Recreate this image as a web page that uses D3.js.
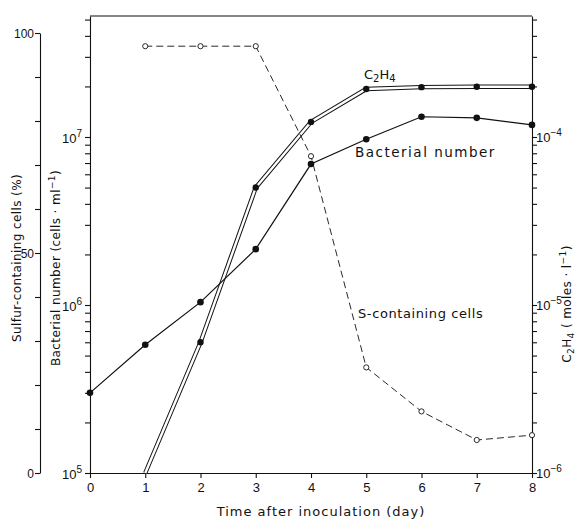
<!DOCTYPE html>
<html>
<head>
<meta charset="utf-8">
<script src="https://cdn.jsdelivr.net/npm/d3@7"></script>
<style>
  body { margin: 0; background: #fff; }
  svg { font-family: "DejaVu Sans", sans-serif; }
  .axis path, .axis line { stroke: #111; stroke-width: 1.1; }
</style>
</head>
<body>
<script>
// sampling days
const days = [0, 1, 2, 3, 4, 5, 6, 7, 8];
// bacterial number (cells per ml)
const bacteria = [3.0e5, 5.8e5, 1.04e6, 2.15e6, 6.9e6, 9.7e6, 1.32e7, 1.3e7, 1.18e7];
// ethylene (moles per l), measured from day 1
const ethDays = [1, 2, 3, 4, 5, 6, 7, 8];
const ethylene = [1e-6, 6.0e-6, 5.0e-5, 1.23e-4, 1.93e-4, 1.98e-4, 1.99e-4, 1.99e-4];
// sulfur-containing cells (%), measured from day 1
const sulfDays = [1, 2, 3, 4, 5, 6, 7, 8];
const sulfur = [97, 97, 97, 72, 24, 14, 7.5, 8.6];
// tick values
const xTicks = [0, 1, 2, 3, 4, 5, 6, 7, 8];
const sulfTicks = [0, 10, 20, 30, 40, 50, 60, 70, 80, 90, 100];
const sulfLabels = [0, 50, 100];

const width = 578, height = 519;
const svg = d3.select("body").append("svg")
    .attr("width", width)
    .attr("height", height);

// scales
const bottom = 473, decade = 168;
const x = d3.scaleLinear().domain([0, 8]).range([90, 532]);
const yTop = bottom - decade * Math.log10(525);
const yB = d3.scaleLog().domain([1e5, 5.25e7]).range([bottom, yTop]);
const yC = d3.scaleLog().domain([1e-6, 5.25e-4]).range([bottom, yTop]);
const yS = d3.scaleLinear().domain([0, 100]).range([bottom, 33]);

const isPow = d => Math.abs(Math.log10(d) - Math.round(Math.log10(d))) < 1e-6;

// puts "10^n" labels next to the log ticks
const powLabel = function(g, anchor, dx, dy){
    g.selectAll(".tick").filter(d => isPow(d))
     .append("text")
       .attr("x", dx)
       .attr("y", dy)
       .attr("fill", "#111")
       .attr("text-anchor", anchor)
       .style("font-size", "13px")
       .each(function(d){
           var t = d3.select(this);
           t.append("tspan").text("10");
           t.append("tspan")
            .attr("dy", -6)
            .style("font-size", "10px")
            .text(String(Math.round(Math.log10(d))).replace("-", "\u2212"));
       });
};

// x axis
svg.append("g")
   .attr("class", "axis")
   .attr("transform", "translate(0," + bottom + ")")
   .call(d3.axisBottom(x).tickValues(xTicks).tickSize(5).tickSizeOuter(0).tickFormat(""))
   .call(g => g.selectAll(".tick").append("text")
        .attr("y", 19)
        .attr("fill", "#111")
        .attr("text-anchor", "middle")
        .style("font-size", "13px")
        .text(d => d));

// top frame line
svg.append("line")
   .attr("x1", x(0)).attr("x2", x(8))
   .attr("y1", yTop).attr("y2", yTop)
   .attr("stroke", "#111").attr("stroke-width", 1.1);

// bacterial number axis
svg.append("g")
   .attr("class", "axis")
   .attr("transform", "translate(" + x(0) + ",0)")
   .call(d3.axisLeft(yB).tickValues(yB.ticks()).tickSize(5).tickSizeOuter(0).tickFormat(""))
   .call(g => powLabel(g, "end", -8, 5));

// ethylene axis
svg.append("g")
   .attr("class", "axis")
   .attr("transform", "translate(" + x(8) + ",0)")
   .call(d3.axisRight(yC).tickValues(yC.ticks()).tickSize(5).tickSizeOuter(0).tickFormat(""))
   .call(g => powLabel(g, "start", 4, 4));

// sulfur axis
svg.append("g")
   .attr("class", "axis")
   .attr("transform", "translate(40,0)")
   .call(d3.axisLeft(yS).tickValues(sulfTicks).tickSize(5).tickSizeOuter(0).tickFormat(""))
   .call(g => g.selectAll(".tick").filter(d => sulfLabels.includes(d)).append("text")
        .attr("x", -6)
        .attr("y", 4)
        .attr("fill", "#111")
        .attr("text-anchor", "end")
        .style("font-size", "12px")
        .text(d => d));

// ethylene: double line
const ethData = ethDays.map((d, i) => [d, ethylene[i]]);
const ethLine = d3.line().x(d => x(d[0])).y(d => yC(d[1]));
svg.append("path").attr("d", ethLine(ethData))
   .attr("fill", "none").attr("stroke", "#111").attr("stroke-width", 4.4);
svg.append("path").attr("d", ethLine(ethData))
   .attr("fill", "none").attr("stroke", "#fff").attr("stroke-width", 2.4);
svg.selectAll(".ethDot")
   .data(ethData.filter(d => d[1] > 1e-6))
   .enter().append("circle")
   .attr("class", "ethDot")
   .attr("cx", d => x(d[0])).attr("cy", d => yC(d[1]))
   .attr("r", 3.2).attr("fill", "#111");

// bacterial number
const bacData = days.map((d, i) => [d, bacteria[i]]);
svg.append("path")
   .attr("d", d3.line().x(d => x(d[0])).y(d => yB(d[1]))(bacData))
   .attr("fill", "none").attr("stroke", "#111").attr("stroke-width", 1.2);
svg.selectAll(".bacDot")
   .data(bacData).enter().append("circle")
   .attr("class", "bacDot")
   .attr("cx", d => x(d[0])).attr("cy", d => yB(d[1]))
   .attr("r", 3.3).attr("fill", "#111");

// sulfur-containing cells
const sulData = sulfDays.map((d, i) => [d, sulfur[i]]);
svg.append("path")
   .attr("d", d3.line().x(d => x(d[0])).y(d => yS(d[1]))(sulData))
   .attr("fill", "none").attr("stroke", "#111").attr("stroke-width", 0.9)
   .attr("stroke-dasharray", "7,4");
svg.selectAll(".sulDot")
   .data(sulData).enter().append("circle")
   .attr("class", "sulDot")
   .attr("cx", d => x(d[0])).attr("cy", d => yS(d[1]))
   .attr("r", 2.6).attr("fill", "#fff").attr("stroke", "#111").attr("stroke-width", 0.9);

// curve labels
const c2 = svg.append("text").attr("x", 364).attr("y", 79)
   .style("font-size", "13px").attr("fill", "#111");
c2.append("tspan").text("C");
c2.append("tspan").attr("dy", 3).style("font-size", "10px").text("2");
c2.append("tspan").attr("dy", -3).text("H");
c2.append("tspan").attr("dy", 3).style("font-size", "10px").text("4");

svg.append("text").attr("x", 355).attr("y", 157)
   .style("font-size", "13.5px").style("letter-spacing", "1.5px")
   .attr("fill", "#111").text("Bacterial number");
svg.append("text").attr("x", 358).attr("y", 318)
   .style("font-size", "13px").style("letter-spacing", "0.6px")
   .attr("fill", "#111").text("S-containing cells");

// axis titles
svg.append("text")
   .attr("x", (x(0) + x(8)) / 2 + 10).attr("y", 516)
   .attr("text-anchor", "middle")
   .style("font-size", "13px").style("letter-spacing", "1px")
   .attr("fill", "#111").text("Time after inoculation (day)");

svg.append("text")
   .attr("transform", "translate(21,258) rotate(-90)")
   .attr("text-anchor", "middle")
   .style("font-size", "12px").style("letter-spacing", "0.4px")
   .attr("fill", "#111").text("Sulfur-containing cells (%)");

const bt = svg.append("text")
   .attr("transform", "translate(60,268) rotate(-90)")
   .attr("text-anchor", "middle")
   .style("font-size", "12px").style("letter-spacing", "0.4px")
   .attr("fill", "#111");
bt.append("tspan").text("Bacterial number  (cells \u00b7 ml");
bt.append("tspan").attr("dy", -5).style("font-size", "9px").text("\u22121");
bt.append("tspan").attr("dy", 5).text(")");

const rt = svg.append("text")
   .attr("transform", "translate(571,304) rotate(-90)")
   .attr("text-anchor", "middle")
   .style("font-size", "12px").style("letter-spacing", "0.4px")
   .attr("fill", "#111");
rt.append("tspan").text("C");
rt.append("tspan").attr("dy", 3).style("font-size", "9px").text("2");
rt.append("tspan").attr("dy", -3).text("H");
rt.append("tspan").attr("dy", 3).style("font-size", "9px").text("4");
rt.append("tspan").attr("dy", -3).text("  ( moles \u00b7 l");
rt.append("tspan").attr("dy", -5).style("font-size", "9px").text("\u22121");
rt.append("tspan").attr("dy", 5).text(")");
</script>
</body>
</html>
